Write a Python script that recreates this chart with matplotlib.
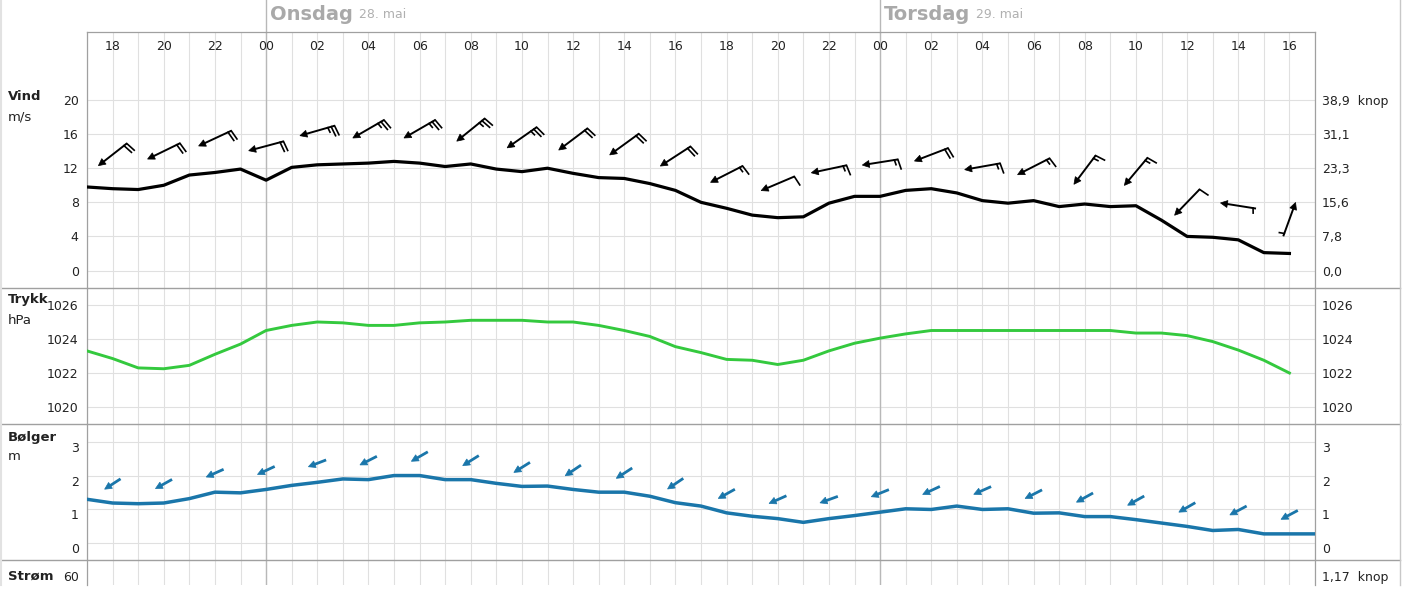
import matplotlib
matplotlib.use("Agg")
import matplotlib.pyplot as plt
import numpy as np
from matplotlib.lines import Line2D
from matplotlib.patches import Polygon
from matplotlib.transforms import Affine2D, blended_transform_factory

plt.rcParams["font.family"] = "DejaVu Sans"

# Timeverdier fra kl 17 tirsdag (indeks 0) til kl 16 torsdag (indeks 47)
vind = [9.8, 9.6, 9.5, 10.0, 11.2, 11.5, 11.9, 10.6,
        12.1, 12.4, 12.5, 12.6, 12.8, 12.6, 12.2, 12.5,
        11.9, 11.6, 12.0, 11.4, 10.9, 10.8, 10.2, 9.4,
        8.0, 7.3, 6.5, 6.2, 6.3, 7.9, 8.7, 8.7,
        9.4, 9.6, 9.1, 8.2, 7.9, 8.2, 7.5, 7.8,
        7.5, 7.6, 5.9, 4.0, 3.9, 3.6, 2.1, 2.0]
trykk = [1023.3, 1022.85, 1022.3, 1022.25, 1022.45, 1023.1, 1023.7, 1024.5,
         1024.8, 1025.0, 1024.95, 1024.8, 1024.8, 1024.95, 1025.0, 1025.1,
         1025.1, 1025.1, 1025.0, 1025.0, 1024.8, 1024.5, 1024.15, 1023.55,
         1023.2, 1022.8, 1022.75, 1022.5, 1022.75, 1023.3, 1023.75, 1024.05,
         1024.3, 1024.5, 1024.5, 1024.5, 1024.5, 1024.5, 1024.5, 1024.5,
         1024.5, 1024.35, 1024.35, 1024.2, 1023.85, 1023.35, 1022.75, 1022.0]
# bolger har en verdi til (kl 17 torsdag)
bolger = [1.30, 1.19, 1.17, 1.19, 1.32, 1.51, 1.49, 1.59,
          1.71, 1.80, 1.90, 1.88, 2.00, 2.00, 1.88, 1.88,
          1.77, 1.68, 1.69, 1.59, 1.51, 1.51, 1.39, 1.20,
          1.10, 0.90, 0.80, 0.73, 0.62, 0.73, 0.82, 0.92,
          1.02, 1.00, 1.10, 1.00, 1.02, 0.89, 0.90, 0.79,
          0.79, 0.70, 0.60, 0.50, 0.38, 0.41, 0.28, 0.28, 0.28]

# hver andre time, kl 18 tirsdag .. kl 16 torsdag
tidsetiketter = ["18", "20", "22", "00", "02", "04", "06", "08", "10", "12", "14", "16",
                 "18", "20", "22", "00", "02", "04", "06", "08", "10", "12", "14", "16"]
# pilretning paa skjermen (grader, 0 = mot hoyre, mot klokka)
vind_retning = [218, 206, 205, 195, 196, 210, 210, 219, 215, 217, 216, 213,
                207, 203, 192, 189, 201, 190, 207, 233, 230, 226, 171, 70]
bolge_retning = [213, 209, 204, 205, 201, 207, 210, 212, 212, 214, 213, 214,
                 209, 204, 200, 202, 205, 204, 207, 209, 209, 210, 208, 208]

dager = ["Onsdag", "Torsdag"]
datoer = ["28. mai", "29. mai"]
dag_start = [7, 31]

vind_ticks = [0, 4, 8, 12, 16, 20]
knop_etiketter = ["0,0", "7,8", "15,6", "23,3", "31,1", "38,9  knop"]
trykk_ticks = [1020, 1022, 1024, 1026]
bolge_ticks = [0, 1, 2, 3]
strom_ticks = [60]
strom_hoyre = ["1,17  knop"]

W, H = 1406, 605
GRID = "#e0e0e0"
KANT = "#a0a0a0"
DAGLINJE = "#b8b8b8"
GRONN = "#34c93e"
BLA = "#1a76aa"
TEKST = "#222222"

fig = plt.figure(figsize=(W / 100, H / 100), dpi=100)


def panel(topp, bunn):
    return fig.add_axes([87 / W, 1 - bunn / H, (1315 - 87) / W, (bunn - topp) / H])


def sett_opp(ax, ylim, ticks, hoyre):
    ax.set_xlim(0, 48)
    ax.set_ylim(*ylim)
    ax.set_xticks(np.arange(0, 49))
    ax.set_yticks(ticks)
    ax.tick_params(axis="both", length=0, labelsize=9, colors=TEKST, pad=6)
    ax.tick_params(axis="x", labelbottom=False)
    ax.grid(True, color=GRID, lw=0.8)
    ax.set_axisbelow(True)
    for s in ax.spines.values():
        s.set_color(KANT)
        s.set_linewidth(0.9)
    ax.spines["top"].set_visible(False)
    ax.spines["bottom"].set_visible(False)
    for d in dag_start:
        ax.axvline(d, color=DAGLINJE, lw=1.0, zorder=1)
    tw = ax.twinx()
    tw.set_ylim(*ylim)
    tw.set_yticks(ticks)
    tw.set_yticklabels(hoyre)
    tw.tick_params(axis="y", length=0, labelsize=9, colors=TEKST, pad=5)
    for s in tw.spines.values():
        s.set_visible(False)
    return tw


ax_v = panel(32, 288)
ax_p = panel(288, 424)
ax_b = panel(424, 560)
ax_s = panel(560, 585)

timer = np.arange(len(vind))
timer_b = np.arange(len(bolger))

# vind
sett_opp(ax_v, (-2.05, 27.98), vind_ticks, knop_etiketter)
ax_v.spines["top"].set_visible(True)
ax_v.plot(timer, vind, color="black", lw=2.3, solid_joinstyle="round", zorder=3)

# trykk
sett_opp(ax_p, (1019, 1027), trykk_ticks, [str(t) for t in trykk_ticks])
ax_p.plot(timer, trykk, color=GRONN, lw=2.1, solid_joinstyle="round", zorder=3)

# bolger
tw_b = sett_opp(ax_b, (-0.49, 3.52), bolge_ticks, [str(t) for t in bolge_ticks])
ax_b.plot(timer_b, bolger, color=BLA, lw=2.5, solid_joinstyle="round", zorder=3)
plt.setp(ax_b.get_yticklabels(), va="top")
plt.setp(tw_b.get_yticklabels(), va="top")

# strom
tw_s = sett_opp(ax_s, (0, 107), strom_ticks, strom_hoyre)
ax_s.grid(False, axis="y")
plt.setp(ax_s.get_yticklabels(), va="top")
plt.setp(tw_s.get_yticklabels(), va="top")

# tidsetiketter oeverst
topp = blended_transform_factory(ax_v.transData, ax_v.transAxes)
for i, lab in enumerate(tidsetiketter):
    ax_v.text(1 + 2 * i, 1 - 15 / 256, lab, transform=topp, ha="center", va="center",
              fontsize=9, color=TEKST)

# dagsoverskrifter
for d, dag, dato in zip(dag_start, dager, datoer):
    ax_v.plot([d, d], [1, 1 + 32 / 256], transform=topp, color=DAGLINJE, lw=1.0,
              clip_on=False)
    t = ax_v.annotate(dag, xy=(d, 1), xycoords=topp, xytext=(4, 18),
                      textcoords="offset pixels", ha="left", va="center",
                      fontsize=14, fontweight="bold", color="#a9a9a9")
    ax_v.annotate(dato, xy=(1, 0.5), xycoords=t, xytext=(6, -1),
                  textcoords="offset pixels", ha="left", va="center",
                  fontsize=9, color="#b0b0b0")

# panelnavn til venstre
for navn, enhet, py in [("Vind", "m/s", 97), ("Trykk", "hPa", 300),
                        ("Bølger", "m", 437), ("Strøm", None, 576)]:
    fig.text(8 / W, 1 - py / H, navn, fontsize=9.5, fontweight="bold",
             color=TEKST, va="center", ha="left")
    if enhet:
        fig.text(8 / W, 1 - (py + 20) / H, enhet, fontsize=9.5, color=TEKST,
                 va="center", ha="left")

# skillelinjer og ramme
for py in [288, 424, 560]:
    fig.add_artist(Line2D([0, 1400 / W], [1 - py / H] * 2, transform=fig.transFigure,
                          color=KANT, lw=1.0))
fig.add_artist(Line2D([1400 / W] * 2, [1 - 585 / H, 1], transform=fig.transFigure,
                      color="#c8c8c8", lw=1.0))
fig.add_artist(Line2D([1 / W] * 2, [1 - 585 / H, 1], transform=fig.transFigure,
                      color="#e2e2e2", lw=1.5))


def pil(ax, x, y, vinkel, lengde, farge, lw, hode):
    px, py = ax.transData.transform((x, y))
    tr = Affine2D().rotate_deg(vinkel).translate(px, py)
    ax.add_artist(Line2D([-lengde / 2, lengde / 2 - hode * 0.8], [0, 0], transform=tr,
                         color=farge, lw=lw, solid_capstyle="butt"))
    ax.add_artist(Polygon([[lengde / 2, 0], [lengde / 2 - hode, hode * 0.5],
                           [lengde / 2 - hode, -hode * 0.5]], closed=True,
                          transform=tr, facecolor=farge, edgecolor=farge, lw=0.5))
    return tr


# vindpiler med fjaer
fjaer_vinkel = np.deg2rad(100)
for i, retning in enumerate(vind_retning):
    idx = 1 + 2 * i
    fart = vind[idx]
    L = 36
    tr = pil(ax_v, idx, fart + 4.0, retning, L, "black", 1.4, 7)
    n = int(round(fart * 1.94384 / 5))
    hele, halv = divmod(n, 2)
    for k in range(hele):
        x0 = -L / 2 + k * 3.5
        ax_v.add_artist(Line2D([x0, x0 + 10 * np.cos(fjaer_vinkel)],
                               [0, 10 * np.sin(fjaer_vinkel)], transform=tr,
                               color="black", lw=1.2))
    if halv:
        x0 = -L / 2 + hele * 3.5 + (3 if hele == 0 else 0)
        ax_v.add_artist(Line2D([x0, x0 + 5 * np.cos(fjaer_vinkel)],
                               [0, 5 * np.sin(fjaer_vinkel)], transform=tr,
                               color="black", lw=1.2))

# bolgepiler
for i, retning in enumerate(bolge_retning):
    idx = 1 + 2 * i
    pil(ax_b, idx, bolger[idx] + 0.56, retning, 19, BLA, 2.0, 7)

fig.savefig("out.png", dpi=100)
